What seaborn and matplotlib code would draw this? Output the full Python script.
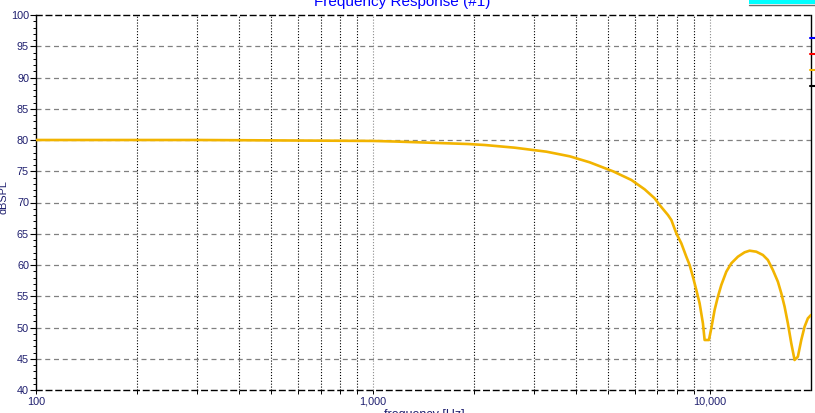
import matplotlib
matplotlib.use("Agg")
import matplotlib.pyplot as plt
import matplotlib.ticker as mticker
from matplotlib.lines import Line2D
from matplotlib.patches import Rectangle
import seaborn as sns
import pandas as pd

# ---- data ----
freq_hz = [100, 307, 677, 1000, 1178, 1507, 1914, 2149, 2638, 3277, 3843, 4405,
           5167, 5859, 6416, 6867, 7105, 7521, 7698, 7964, 8241, 8527, 8723,
           8920, 9131, 9339, 9552, 9665, 9953, 10116, 10347, 10583, 10832,
           11209, 11598, 12134, 12702, 13143, 13759, 14395, 14894, 15412,
           15948, 16324, 16697, 17075, 17477, 17876, 18283, 18713, 19141,
           19578, 20000]
spl_db = [80.0, 80.0, 79.9, 79.85, 79.75, 79.55, 79.36, 79.2, 78.77, 78.13, 77.39,
          76.43, 74.99, 73.6, 72.1, 70.67, 69.6, 68.0, 67.2, 65.07, 63.47, 61.33,
          60.0, 58.13, 56.0, 53.87, 50.67, 48.0, 48.0, 49.87, 52.8, 54.93, 56.8,
          58.93, 60.27, 61.33, 62.03, 62.29, 62.13, 61.6, 60.8, 59.2, 57.33,
          55.47, 53.33, 50.67, 47.47, 44.8, 45.33, 48.0, 50.13, 51.47, 52.0]
x_major = [100, 1000, 10000]
x_minor = [200, 300, 400, 500, 600, 700, 800, 900,
           2000, 3000, 4000, 5000, 6000, 7000, 8000, 9000]
y_ticks = [40, 45, 50, 55, 60, 65, 70, 75, 80, 85, 90, 95, 100]
title_text = "Frequency Response (#1)"
xlabel_text = "frequency [Hz]"
ylabel_text = "dBSPL"

sns.set_style("white")
plt.rcParams["font.family"] = ["Liberation Sans", "DejaVu Sans"]

W, H = 815, 413
fig = plt.figure(figsize=(W / 100, H / 100), dpi=100)
fig.patch.set_facecolor("white")
ax = fig.add_axes([36 / W, (H - 390) / H, 775 / W, 375 / H])

df = pd.DataFrame({"freq": freq_hz, "spl": spl_db})
navy = "#1e1e6e"
curve_col = "#F2B400"

ax.set_xscale("log")
ax.set_xlim(100, 20000)
ax.set_ylim(40, 100)

# grid lines
for v in x_minor:
    ax.axvline(v, color="black", lw=0.8, ls=(0, (1, 1.6)), zorder=1)
for v in x_major[1:]:
    ax.axvline(v, color="#8c8c8c", lw=0.8, ls=(0, (1, 1.6)), zorder=1)
for v in y_ticks[1:-1]:
    ax.axhline(v, color="#808080", lw=0.9, ls=(0, (4, 3)), zorder=1)

sns.lineplot(data=df, x="freq", y="spl", ax=ax, color=curve_col, lw=1.9,
             estimator=None, sort=True, zorder=3)

ax.set_xlabel("")
ax.set_ylabel("")

ax.xaxis.set_major_locator(mticker.FixedLocator(x_major))
ax.xaxis.set_major_formatter(mticker.FuncFormatter(lambda v, p: f"{int(v):,}"))
ax.xaxis.set_minor_locator(mticker.FixedLocator(x_minor))
ax.xaxis.set_minor_formatter(mticker.NullFormatter())
ax.yaxis.set_major_locator(mticker.FixedLocator(y_ticks))
ax.yaxis.set_minor_locator(mticker.MultipleLocator(1))

ax.tick_params(axis="y", which="major", direction="out", length=4, width=0.8,
               color="black", labelsize=7.8, labelcolor=navy, pad=1, left=True)
ax.tick_params(axis="y", which="minor", direction="out", length=2, width=0.7,
               color="black", left=True)
ax.tick_params(axis="x", which="both", direction="out", length=3, width=0.7,
               color="black", labelsize=7.8, labelcolor=navy, pad=2, bottom=True)

for s in ["left", "right"]:
    ax.spines[s].set_color("black")
    ax.spines[s].set_linewidth(1.0)
for s in ["top", "bottom"]:
    ax.spines[s].set_color("black")
    ax.spines[s].set_linewidth(1.0)
    ax.spines[s].set_linestyle((0, (4, 3)))

# texts
fig.text(402 / W, 1 - 6 / H, title_text, color="#0000ff", fontsize=11,
         ha="center", va="baseline")
fig.text(424 / W, 1 - 409 / H, xlabel_text, color=navy, fontsize=9,
         ha="center", va="top")
fig.text(4 / W, 1 - 197 / H, ylabel_text, color=navy, fontsize=7.8,
         rotation=90, ha="center", va="center")

# right-side markers
for ypix, col in [(38, "#0000ff"), (54, "#ff0000"), (70, curve_col), (86, "black")]:
    fig.add_artist(Line2D([810 / W, 815 / W], [1 - ypix / H, 1 - ypix / H],
                          color=col, lw=1.5, transform=fig.transFigure))

# cyan box at the top right
fig.add_artist(Rectangle((749 / W, 1 - 4 / H), 66 / W, 4 / H, facecolor="#00ffff",
                         edgecolor="none", transform=fig.transFigure))
fig.add_artist(Line2D([749 / W, 815 / W], [1 - 4.5 / H, 1 - 4.5 / H],
                      color="#707070", lw=1.0, transform=fig.transFigure))

fig.savefig("out.png", dpi=100)
